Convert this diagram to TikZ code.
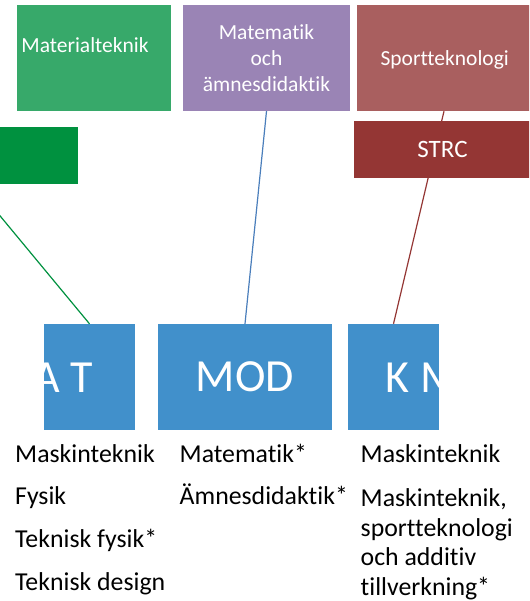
\documentclass[tikz,border=0pt]{standalone}
\usepackage{fontspec}
\setmainfont{Carlito}[Ligatures=NoCommon]
\definecolor{matgreen}{RGB}{55,169,106}
\definecolor{darkgreen}{RGB}{0,145,63}
\definecolor{mathpurple}{RGB}{154,132,181}
\definecolor{sportred}{RGB}{169,95,95}
\definecolor{strcred}{RGB}{148,54,52}
\definecolor{unitblue}{RGB}{65,144,203}
\definecolor{linkblue}{RGB}{74,126,187}
\begin{document}
\begin{tikzpicture}[x=1pt,y=-1pt,
  box/.style={draw=none, inner sep=0pt, text=white, align=center},
  topbox/.style={box, minimum height=106pt, font=\fontsize{21.5}{26}\selectfont},
  unitbox/.style={box, fill=unitblue, minimum width=91pt, minimum height=106pt, font=\fontsize{46}{50}\selectfont},
  unitlabel/.style={inner sep=0pt, text=white, font=\fontsize{46}{50}\selectfont},
  link/.style={line width=1.2pt},
  subj/.style={inner sep=0pt, text=black, align=left, font=\fontsize{25.8}{29.5}\selectfont}]
\useasboundingbox (0,0) rectangle (529,601);
\clip (0,0) rectangle (529,601);

% boxes
\node[topbox, fill=matgreen, minimum width=154pt] (mat) at (94,58) {};
\node[topbox, fill=mathpurple, minimum width=167pt] (matem) at (266.5,58) {Matematik\\och\\ämnesdidaktik};
\node[topbox, fill=sportred, minimum width=174pt] (sport) at (444,58) {};
\node[box, fill=darkgreen, minimum width=209pt, minimum height=56.7pt] (grn) at (-26.5,155.3) {};

\node[unitbox] (at) at (89.5,377) {};
\node[unitbox, minimum width=174pt] (mod) at (245,377) {MOD};
\node[unitbox] (km) at (393.5,377) {};

% connectors
\draw[link, darkgreen] (grn.south) -- (at.north);
\draw[link, linkblue] (matem.south) -- (mod.north);
\draw[link, strcred] (sport.south) -- (km.north);

\node[box, fill=strcred, minimum width=177pt, minimum height=56.7pt, font=\fontsize{25}{29}\selectfont] (strc) at (442.5,149.3) {STRC};

% labels in boxes
\node[inner sep=0pt, text=white, anchor=base, font=\fontsize{21.5}{26}\selectfont] (matlbl) at (85,52.3) {Materialteknik};
\node[inner sep=0pt, text=white, anchor=base, font=\fontsize{21.5}{26}\selectfont] (sportlbl) at (444.7,65.3) {Sportteknologi};

\begin{scope}
  \clip (at.south west) rectangle (at.north east);
  \node[unitlabel, anchor=base east] (atlbl) at (93.5,392.7) {A T};
\end{scope}
\begin{scope}
  \clip (km.south west) rectangle (km.north east);
  \node[unitlabel, anchor=base west] (kmlbl) at (385.5,392.7) {K M};
\end{scope}

% subject lists
\node[subj, anchor=base west] (s1) at (15,462.3) {Maskinteknik};
\node[subj, anchor=base west] (s2) at (15,504.7) {Fysik};
\node[subj, anchor=base west] (s3) at (15,547.3) {Teknisk fysik*};
\node[subj, anchor=base west] (s4) at (15,590) {Teknisk design};
\node[subj, anchor=base west] (m1) at (179.5,462.3) {Matematik*};
\node[subj, anchor=base west] (m2) at (179.5,504.7) {Ämnesdidaktik*};
\node[subj, anchor=base west] (k1) at (360.5,462.3) {Maskinteknik};
\node[subj, anchor=base west] (k2) at (360.5,595) {Maskinteknik,\\sportteknologi\\och additiv\\tillverkning*};
\end{tikzpicture}
\end{document}
